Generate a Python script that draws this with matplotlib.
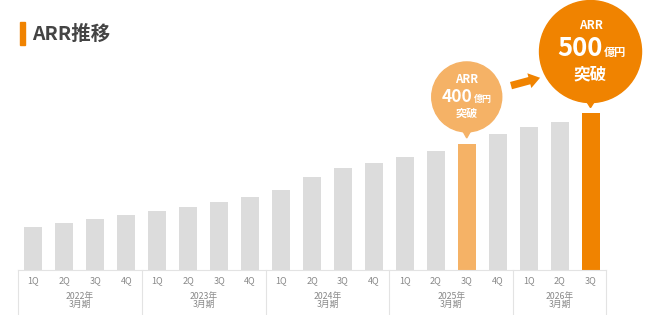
import matplotlib
matplotlib.use("Agg")
import matplotlib.pyplot as plt
from matplotlib.patches import Circle, Polygon, Rectangle
from matplotlib.transforms import ScaledTranslation

plt.rcParams['font.family'] = ['Noto Sans CJK JP', 'DejaVu Sans']

# ARR by quarter (億円)
quarters = ['1Q', '2Q', '3Q', '4Q'] * 4 + ['1Q', '2Q', '3Q']
arr = [138, 149, 163, 176, 188, 200, 216, 232, 256, 297,
       325, 341, 361, 380, 402, 434, 455, 473, 502]
years = ['2022年', '2023年', '2024年', '2025年', '2026年']
year_sizes = [4, 4, 4, 4, 3]

GRAY = '#dcdcdc'
ORANGE = '#f08300'
LIGHT = '#f5b266'
TXT = '#888888'

colors = [GRAY] * len(arr)
colors[14] = LIGHT
colors[18] = ORANGE

fig = plt.figure(figsize=(6.5, 3.15), dpi=100)
ax = fig.add_axes([18 / 650, 45 / 315, 588 / 650, 270 / 315])
x = list(range(len(arr)))
ax.bar(x, arr, width=0.58, color=colors)
ax.set_xlim(-0.5, len(arr) - 0.5)
ax.set_ylim(0, 861)
ax.axis('off')

# baseline and group separators under the axis
xt = ax.get_xaxis_transform()
ax.plot([-0.5, len(arr) - 0.5], [0, 0], transform=xt, color='#e3e3e3', lw=0.8, clip_on=False)
start = -0.5
for yr, n in zip(years, year_sizes):
    ax.plot([start, start], [0, -0.17], transform=xt, color='#e3e3e3', lw=0.8, clip_on=False)
    mid = start + n / 2
    ax.text(mid, -0.097, yr, transform=xt, ha='center', va='center', fontsize=6.3, color=TXT)
    ax.text(mid, -0.127, '3月期', transform=xt, ha='center', va='center', fontsize=6.3, color=TXT)
    start += n
ax.plot([start, start], [0, -0.17], transform=xt, color='#e3e3e3', lw=0.8, clip_on=False)
for i, q in enumerate(quarters):
    ax.text(i, -0.04, q, transform=xt, ha='center', va='center', fontsize=6.5, color=TXT)

# title
fig.patches.append(Rectangle((20 / 650, 1 - 45 / 315), 5 / 650, 23 / 315,
                             transform=fig.transFigure, color=ORANGE))
fig.text(32 / 650, 1 - 34 / 315, 'ARR推移', ha='left', va='center',
         fontsize=14, fontweight='bold', color='#444444')


def bubble(i, color, r, dy, gap, lab_dy, num, num_dy, split, num_fs, unit_fs, brk_dy, brk_fs, arr_fs):
    px = 1 / 100
    v = arr[i]
    tr = fig.dpi_scale_trans + ScaledTranslation(i, v, ax.transData)
    ax.add_patch(Circle((0, dy * px), r * px, transform=tr, color=color, clip_on=False))
    ax.add_patch(Polygon([(-5 * px, (dy - r + 3) * px), (5 * px, (dy - r + 3) * px), (0, gap * px)],
                         transform=tr, color=color, clip_on=False))
    kw = dict(xy=(i, v), textcoords='offset pixels', color='white', fontweight='bold')
    ax.annotate('ARR', xytext=(0, dy + lab_dy), ha='center', va='center', fontsize=arr_fs, **kw)
    ax.annotate(num, xytext=(split, dy + num_dy), ha='right', va='baseline', fontsize=num_fs, **kw)
    ax.annotate('億円', xytext=(split + 1, dy + num_dy), ha='left', va='baseline', fontsize=unit_fs, **kw)
    ax.annotate('突破', xytext=(0, dy + brk_dy), ha='center', va='center', fontsize=brk_fs, **kw)


bubble(14, LIGHT, 35, 47, 6, 17.4, '400', -5, 6, 12.5, 6.5, -16.6, 8, 8.3)
bubble(18, ORANGE, 51, 61, 5, 26, '500', -4.7, 12, 18.5, 8, -23, 12, 8.5)

# arrow between bubbles
ax.annotate('', xy=(16.37, 613), xytext=(15.43, 588),
            arrowprops=dict(arrowstyle='simple,head_width=0.55,head_length=0.4,tail_width=0.27',
                            color=ORANGE, lw=0, mutation_scale=20, shrinkA=0, shrinkB=0))

fig.savefig('out.png', dpi=100)
